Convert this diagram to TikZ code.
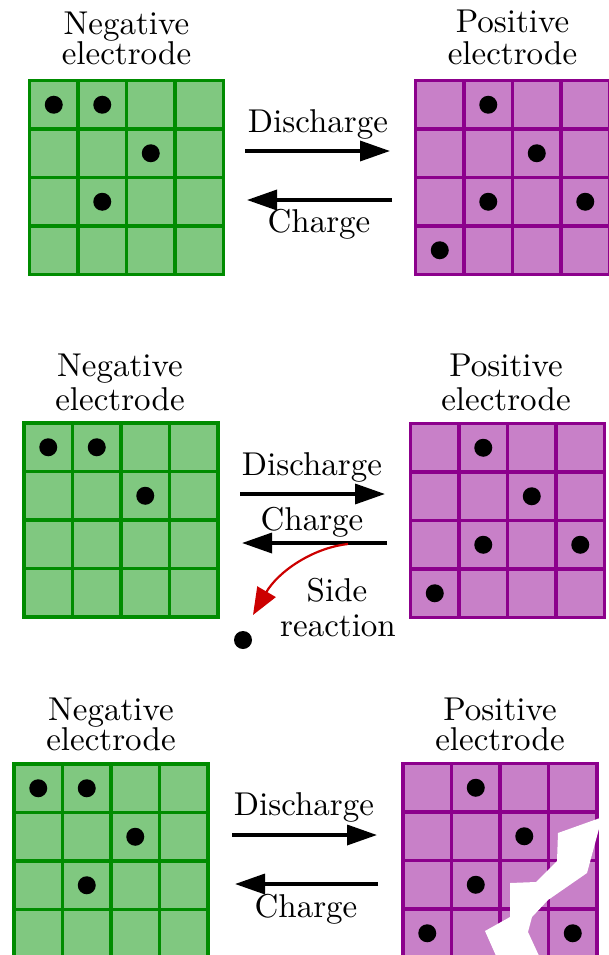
\documentclass[tikz,border=0pt]{standalone}
\usepackage{fontspec}
\setmainfont{lmroman10-regular}[Extension=.otf]
\usetikzlibrary{arrows.meta}

\definecolor{negfill}{RGB}{128,200,128}
\definecolor{negline}{RGB}{0,140,0}
\definecolor{posfill}{RGB}{200,128,200}
\definecolor{posline}{RGB}{140,0,140}
\definecolor{sidered}{RGB}{204,0,0}

\tikzset{
  lbl/.style={font=\fontsize{33}{32}\selectfont, inner sep=0pt, anchor=base},
  ion/.style={fill=black},
  flow/.style={line width=3.5pt, -{Triangle[length=30pt,width=20pt]}},
  sideflow/.style={line width=2.2pt, draw=sidered, -{Triangle[length=27pt,width=21pt]}},
  gridline/.style={line width=3.2pt},
}

% 4x4 electrode lattice with its top-left corner at (#1,#2)
\newcommand\cellgrid[4]{%
  \begin{scope}[shift={(#1,#2)}]
    \fill[#3] (0,0) rectangle (194,194);
    \foreach \k in {1,2,3}{
      \draw[#4, gridline] (\k*48.5,0) -- (\k*48.5,194);
      \draw[#4, gridline] (0,\k*48.5) -- (194,\k*48.5);}
    \draw[#4, gridline] (0,0) rectangle (194,194);
  \end{scope}}

% lithium ion in cell (column #3, row #4) of the lattice at (#1,#2)
\newcommand\ionat[4]{%
  \fill[ion] (#1+#3*48.5+24.25, #2+#4*48.5+24.25) circle[radius=9pt];}

\begin{document}
\begin{tikzpicture}[x=1pt, y=-1pt]
  \useasboundingbox (0,0) rectangle (609,955);
  \clip (0,0) rectangle (609,955);

  % ---------- first row: normal cycling ----------
  \cellgrid{29.5}{80.5}{negfill}{negline}
  \ionat{29.5}{80.5}{0}{0} \ionat{29.5}{80.5}{1}{0}
  \ionat{29.5}{80.5}{2}{1} \ionat{29.5}{80.5}{1}{2}
  \cellgrid{415.5}{80.5}{posfill}{posline}
  \ionat{415.5}{80.5}{1}{0} \ionat{415.5}{80.5}{2}{1}
  \ionat{415.5}{80.5}{1}{2} \ionat{415.5}{80.5}{3}{2}
  \ionat{415.5}{80.5}{0}{3}

  \node[lbl] (neg1a) at (126.5,34.5) {Negative};
  \node[lbl] (neg1b) at (126.5,65) {electrode};
  \node[lbl] (pos1a) at (512.5,33) {Positive};
  \node[lbl] (pos1b) at (512.5,65) {electrode};

  \coordinate (d1s) at (245,151);
  \coordinate (d1e) at (390,151);
  \coordinate (c1s) at (392,200);
  \coordinate (c1e) at (247,200);
  \draw[flow] (d1s) -- (d1e);
  \draw[flow] (c1s) -- (c1e);
  \node[lbl] (dis1) at (318,132) {Discharge};
  \node[lbl] (chg1) at (319,232) {Charge};

  % ---------- second row: side reaction ----------
  \cellgrid{24}{423}{negfill}{negline}
  \ionat{24}{423}{0}{0} \ionat{24}{423}{1}{0}
  \ionat{24}{423}{2}{1}
  \cellgrid{410.5}{423.5}{posfill}{posline}
  \ionat{410.5}{423.5}{1}{0} \ionat{410.5}{423.5}{2}{1}
  \ionat{410.5}{423.5}{1}{2} \ionat{410.5}{423.5}{3}{2}
  \ionat{410.5}{423.5}{0}{3}

  \node[lbl] (neg2a) at (120,376.5) {Negative};
  \node[lbl] (neg2b) at (120,410) {electrode};
  \node[lbl] (pos2a) at (506,376) {Positive};
  \node[lbl] (pos2b) at (506,410) {electrode};

  \coordinate (d2s) at (240,494);
  \coordinate (d2e) at (385,494);
  \coordinate (c2s) at (387,543);
  \coordinate (c2e) at (242,543);
  \draw[flow] (d2s) -- (d2e);
  \draw[flow] (c2s) -- (c2e);
  \node[lbl] (dis2) at (312,475) {Discharge};
  \node[lbl] (chg2) at (312,530) {Charge};

  \coordinate (s2s) at (348,544);
  \coordinate (s2e) at (253,615);
  \draw[sideflow] (s2s) .. controls (312,548) and (278,572) .. (s2e);
  \fill[ion] (243,640) circle[radius=9pt];
  \node[lbl] (side2a) at (337,601.5) {Side};
  \node[lbl] (side2b) at (338,636.5) {reaction};

  % ---------- third row: cracked positive electrode ----------
  \cellgrid{14}{764}{negfill}{negline}
  \ionat{14}{764}{0}{0} \ionat{14}{764}{1}{0}
  \ionat{14}{764}{2}{1} \ionat{14}{764}{1}{2}
  \cellgrid{403}{763.5}{posfill}{posline}
  \ionat{403}{763.5}{1}{0} \ionat{403}{763.5}{2}{1}
  \ionat{403}{763.5}{1}{2} \ionat{403}{763.5}{0}{3}
  \ionat{403}{763.5}{3}{3}
  \fill[white] (600,818) -- (558,833) -- (557,861) -- (536,882)
    -- (510,883) -- (510,917) -- (485,931) -- (497,958) -- (540,958)
    -- (528,932) -- (532,917) -- (548,900) -- (587,873) -- (600,825) -- cycle;

  \node[lbl] (neg3a) at (111,720) {Negative};
  \node[lbl] (neg3b) at (111,750) {electrode};
  \node[lbl] (pos3a) at (500,720) {Positive};
  \node[lbl] (pos3b) at (500,750) {electrode};

  \coordinate (d3s) at (232,835);
  \coordinate (d3e) at (377,835);
  \coordinate (c3s) at (378,884);
  \coordinate (c3e) at (235,884);
  \draw[flow] (d3s) -- (d3e);
  \draw[flow] (c3s) -- (c3e);
  \node[lbl] (dis3) at (304,815) {Discharge};
  \node[lbl] (chg3) at (306,917) {Charge};
\end{tikzpicture}
\end{document}
